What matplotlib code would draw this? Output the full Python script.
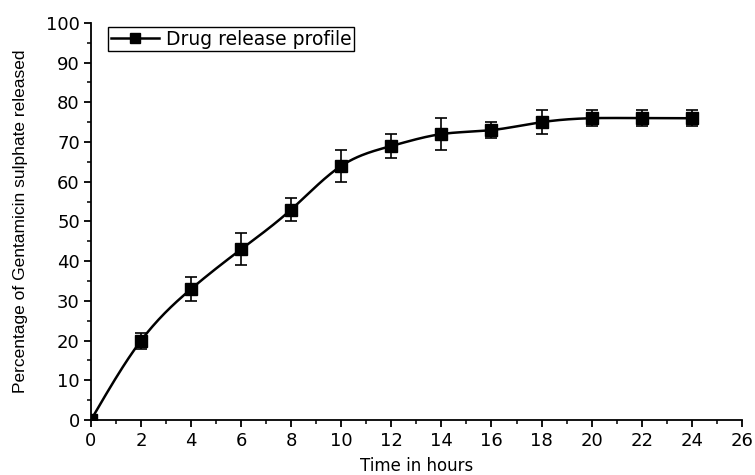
import numpy as np
import matplotlib
matplotlib.use("Agg")
import matplotlib.pyplot as plt

time_h = [0, 2, 4, 6, 8, 10, 12, 14, 16, 18, 20, 22, 24]
release = [0, 20, 33, 43, 53, 64, 69, 72, 73, 75, 76, 76, 76]
err = [0, 2, 3, 4, 3, 4, 3, 4, 2, 3, 2, 2, 2]
xticks = list(range(0, 27, 2))
yticks = list(range(0, 101, 10))

plt.rcParams['font.family'] = ['DejaVu Sans']


def natural_spline(x, y, n=400):
    x = np.asarray(x, float); y = np.asarray(y, float)
    k = len(x); h = np.diff(x)
    A = np.zeros((k, k)); b = np.zeros(k)
    A[0, 0] = A[-1, -1] = 1
    for i in range(1, k - 1):
        A[i, i - 1] = h[i - 1]; A[i, i] = 2 * (h[i - 1] + h[i]); A[i, i + 1] = h[i]
        b[i] = 3 * ((y[i + 1] - y[i]) / h[i] - (y[i] - y[i - 1]) / h[i - 1])
    c = np.linalg.solve(A, b)
    xs = np.linspace(x[0], x[-1], n)
    idx = np.clip(np.searchsorted(x, xs) - 1, 0, k - 2)
    dx = xs - x[idx]
    bb = (y[1:] - y[:-1]) / h - h * (2 * c[:-1] + c[1:]) / 3
    d = (c[1:] - c[:-1]) / (3 * h)
    ys = y[idx] + bb[idx] * dx + c[idx] * dx ** 2 + d[idx] * dx ** 3
    return xs, ys


fig = plt.figure(figsize=(7.55, 4.75), dpi=100)
ax = fig.add_axes([0.1205, 0.1158, 0.862, 0.836])

xs, ys = natural_spline(time_h, release)
ax.plot(xs, ys, color='black', lw=1.8, zorder=2)
ax.errorbar(time_h, release, yerr=err, fmt='none', ecolor='black', elinewidth=1.2,
            capsize=4, capthick=1.2, zorder=3)
ax.plot(time_h, release, 's', color='black', ms=8, zorder=4)

# legend proxy
ax.plot([], [], '-s', color='black', lw=1.8, ms=7, label='Drug release profile')
leg = ax.legend(loc='upper left', bbox_to_anchor=(0.026, 0.99), frameon=True, fancybox=False,
                edgecolor='black', framealpha=1.0, fontsize=13.5, handlelength=2.6,
                handletextpad=0.35, borderpad=0.15, borderaxespad=0.0)
leg.get_frame().set_linewidth(1.0)

ax.set_xlim(0, 26)
ax.set_ylim(0, 100)
ax.set_xticks(xticks)
ax.set_yticks(yticks)
ax.set_xticks(np.arange(1, 26, 2), minor=True)
ax.set_yticks(np.arange(5, 100, 10), minor=True)
for s in ['top', 'right']:
    ax.spines[s].set_visible(False)
for s in ['left', 'bottom']:
    ax.spines[s].set_linewidth(1.3)
ax.tick_params(which='major', direction='out', length=5, width=1.3, labelsize=13)
ax.tick_params(axis='y', which='major', pad=3)
ax.tick_params(which='minor', direction='out', length=3, width=1.1)

ax.set_xlabel('Time in hours', fontsize=12, labelpad=5)
ax.set_ylabel('Percentage of Gentamicin sulphate released', fontsize=12.5,
              family=['Liberation Sans', 'DejaVu Sans'], labelpad=13)

fig.savefig('out.png', dpi=100)
